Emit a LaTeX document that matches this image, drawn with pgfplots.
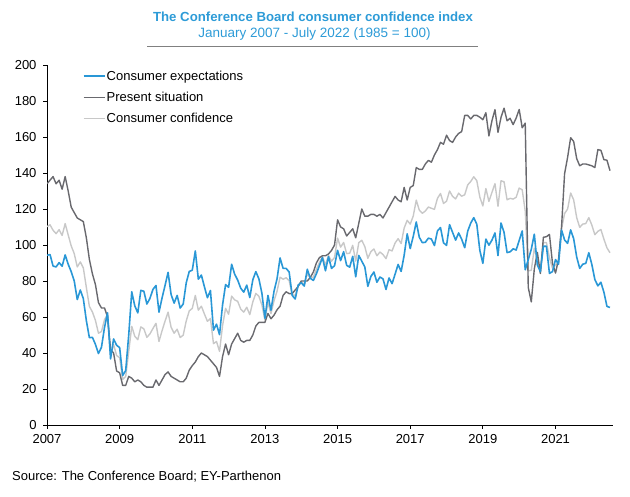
\documentclass[border=0pt]{standalone}
\usepackage{pgfplots}
\pgfplotsset{compat=1.18}
\usepackage{pgfplotstable}
\usepackage{fontspec}
\setmainfont{Liberation Sans}
\definecolor{cblue}{RGB}{41,151,214}
\definecolor{cdark}{RGB}{105,105,110}
\definecolor{clight}{RGB}{200,200,200}
\definecolor{ctitle}{RGB}{45,155,215}

% m = months since January 2007
\pgfplotstableread{
m exp pres conf
0 94.3 134 110.2
1 94.7 136 111.2
2 88.3 138 108.2
3 87.8 134 106.3
4 90.2 136 108.5
5 88.2 131 105.3
6 94.5 138 111.9
7 89.3 130 105.6
8 85.2 121 99.5
9 80.0 118 95.2
10 69.7 115 87.8
11 75.0 114 90.6
12 70.2 113 87.3
13 58.0 104 76.4
14 48.5 92 65.9
15 48.7 84 62.8
16 44.8 78 58.1
17 39.7 68 51.0
18 43.2 65 51.9
19 54.2 65 58.5
20 62.3 60 61.4
21 36.7 42 38.8
22 47.8 40 44.7
23 44.3 30 38.6
24 43.0 29 37.4
25 27.5 22 25.3
26 30.2 22 26.9
27 50.0 27 40.8
28 74.0 26 54.8
29 66.2 24 49.3
30 62.3 25 47.4
31 74.8 24 54.5
32 74.3 22 53.4
33 67.2 21 48.7
34 70.3 21 50.6
35 75.3 21 53.6
36 77.5 25 56.5
37 62.7 22 46.4
38 70.5 25 52.3
39 77.5 28 57.7
40 84.8 29.5 62.7
41 72.5 27 54.3
42 67.7 26 51.0
43 72.0 25 53.2
44 65.0 24 48.6
45 67.2 24 49.9
46 79.0 26 57.8
47 85.3 30.5 63.4
48 86.0 33 64.8
49 96.7 35 72.0
50 81.0 38 63.8
51 83.3 40 66.0
52 76.8 39 61.7
53 70.7 38 57.6
54 74.7 36 59.2
55 52.7 34 45.2
56 56.0 32 46.4
57 50.2 27 40.9
58 66.7 38 55.2
59 78.0 45 64.8
60 76.5 39 61.5
61 89.3 45 71.6
62 83.8 48 69.5
63 80.5 51 68.7
64 76.0 47 64.4
65 73.8 46 62.7
66 77.7 47 65.4
67 70.8 47 61.3
68 80.7 50 68.4
69 85.2 55 73.1
70 81.2 57 71.5
71 73.2 57 66.7
72 59.3 57 58.4
73 72.0 62 68.0
74 63.8 59 61.9
75 74.3 61 69.0
76 81.2 64 74.3
77 92.8 66 82.1
78 87.0 72 81.0
79 87.0 74 81.8
80 85.0 73 80.2
81 72.0 73 72.4
82 70.0 75 72.0
83 77.8 77 77.5
84 79.0 80 79.4
85 77.2 80 78.3
86 86.5 80 83.9
87 81.5 82 81.7
88 80.3 85 82.2
89 84.0 90 86.4
90 88.5 93 90.3
91 93.0 94 93.4
92 85.7 94 89.0
93 93.5 95 94.1
94 87.0 97 91.0
95 88.5 100 93.1
96 97.0 114 103.8
97 91.3 110 98.8
98 96.3 109 101.4
99 88.7 105 95.2
100 87.7 107 95.4
101 93.7 109 99.8
102 82.3 104 91.0
103 94.2 112 101.3
104 91.0 120 102.6
105 87.8 116 99.1
106 77.0 116 92.6
107 82.5 117 96.3
108 85.0 117 97.8
109 79.3 116 94.0
110 82.2 117 96.1
111 81.2 115 94.7
112 75.3 118 92.4
113 81.7 121 97.4
114 78.5 124 96.7
115 83.8 127 101.1
116 89.2 125 103.5
117 85.3 124 100.8
118 94.3 132 109.4
119 106.2 125 113.7
120 98.0 132 111.6
121 104.8 133 116.1
122 112.8 143 124.9
123 104.3 142 119.4
124 101.3 142 117.6
125 101.5 145 118.9
126 103.8 147 121.1
127 103.3 146 120.4
128 99.7 150 119.8
129 107.8 153 125.9
130 109.7 157 128.6
131 101.2 156 123.1
132 99.8 161 124.3
133 111.3 158 130.0
134 107.0 157 127.0
135 102.7 160 125.6
136 106.7 162 128.8
137 103.2 163 127.1
138 98.5 172 127.9
139 107.7 172 133.4
140 112.2 170 135.3
141 115.2 172 137.9
142 111.5 172 135.7
143 97.0 171 126.6
144 89.8 169.6 121.7
145 103.3 173.5 131.4
146 99.9 160.6 124.2
147 102.7 169.0 129.2
148 106.7 175.2 134.1
149 94.1 162.6 121.5
150 112.2 170.9 135.7
151 107.0 176.0 135.1
152 95.8 169.0 125.1
153 96.2 170.4 125.9
154 97.9 166.9 125.5
155 97.2 170.5 126.5
156 102.5 175.3 131.6
157 107.8 165.1 130.7
158 86.2 167.7 118.8
159 91.9 76.4 85.7
160 97.6 68.4 85.9
161 106.0 86.7 98.3
162 88.9 95.9 91.7
163 85.2 84.2 84.8
164 99.3 104.3 101.3
165 99.3 104.6 101.4
166 84.2 105.9 92.9
167 85.2 89.9 87.1
168 91.9 84.4 88.9
169 89.3 92.0 90.4
170 108.3 110.1 109.0
171 102.8 139.6 117.5
172 100.9 148.7 120.0
173 108.4 159.6 128.9
174 103.5 157.5 125.1
175 93.3 148 115.2
176 87.0 144 109.8
177 89.3 145 111.6
178 89.8 145 111.9
179 95.7 144.5 115.2
180 89.2 144 111.1
181 80.8 143 105.7
182 77.3 153 107.6
183 79.3 152.6 108.6
184 73.7 147.4 103.2
185 65.9 147.1 98.4
186 65.3 141.3 95.7
}\datatable

\begin{document}
\begin{tikzpicture}[x=1bp,y=1bp]
\path[use as bounding box] (0,0) rectangle (630,497);
\begin{axis}[
  at={(47bp,72bp)}, anchor=south west,
  scale only axis, width=566bp, height=360bp,
  xmin=0, xmax=187, ymin=0, ymax=200,
  axis x line=bottom, axis y line=left,
  axis line style={-, black, line width=0.8bp},
  xtick={0,24,48,72,96,120,144,168},
  xticklabels={2007,2009,2011,2013,2015,2017,2019,2021},
  ytick={0,20,...,200},
  tick align=outside, major tick length=4bp,
  tick style={black, line width=0.8bp},
  tick label style={font=\fontsize{13bp}{15bp}\selectfont, text=black},
  yticklabel style={xshift=-3bp},
  xticklabel style={yshift=-1.5bp},
  /pgf/number format/assume math mode=true,
  /pgf/number format/1000 sep={},
  legend style={at={(axis description cs:0.063,0.988)}, anchor=north west,
    draw=none, fill=none, inner sep=0pt, row sep=8bp,
    font=\fontsize{13bp}{15bp}\selectfont,
    nodes={inner sep=1.2bp}},
  legend cell align=left,
  legend image code/.code={\draw[#1] (0bp,0bp) -- (21bp,0bp);},
  every axis plot/.append style={line join=round},
]
\addplot[clight, line width=1.4bp, forget plot] table[x=m, y=conf] {\datatable};
\addplot[cdark, line width=1.4bp, forget plot] table[x=m, y=pres] {\datatable};
\addplot[cblue, line width=1.6bp, forget plot] table[x=m, y=exp] {\datatable};
\addlegendimage{cblue, line width=1.6bp}
\addlegendentry{Consumer expectations}
\addlegendimage{cdark, line width=1.4bp}
\addlegendentry{Present situation}
\addlegendimage{clight, line width=1.4bp}
\addlegendentry{Consumer confidence}
\end{axis}
\node[font=\bfseries\fontsize{13.2bp}{15bp}\selectfont, text=ctitle] at (313,480) {The Conference Board consumer confidence index};
\node[font=\fontsize{13.5bp}{15bp}\selectfont, text=ctitle] at (314.5,463) {January 2007 - July 2022 (1985 = 100)};
\draw[gray, line width=1bp] (147,450) -- (478,450);
\node[anchor=west, inner sep=0pt, font=\fontsize{13bp}{15bp}\selectfont, text=black] at (12,20) {Source: The Conference Board; EY-Parthenon};
\end{tikzpicture}
\end{document}
